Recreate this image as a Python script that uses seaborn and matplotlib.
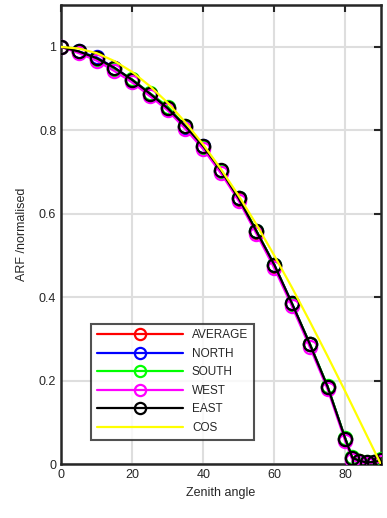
import numpy as np
import pandas as pd
import matplotlib
matplotlib.use("Agg")
import matplotlib.pyplot as plt
import seaborn as sns

# zenith angles (deg) and normalised ARF per direction
angle = [0, 5, 10, 15, 20, 25, 30, 35, 40, 45, 50, 55, 60, 65, 70, 75, 80, 82, 84, 86, 88, 90]
average = [1.0, 0.988, 0.972, 0.948, 0.920, 0.887, 0.853, 0.808, 0.760, 0.702, 0.636, 0.557, 0.476, 0.383, 0.287, 0.185, 0.060, 0.014, 0.007, 0.003, 0.004, 0.008]
north = [1.0, 0.989, 0.975, 0.950, 0.921, 0.888, 0.854, 0.809, 0.762, 0.703, 0.637, 0.558, 0.478, 0.385, 0.288, 0.186, 0.061, 0.015, 0.006, 0.002, 0.003, 0.006]
south = [1.0, 0.988, 0.971, 0.947, 0.922, 0.889, 0.857, 0.810, 0.759, 0.703, 0.638, 0.559, 0.477, 0.384, 0.289, 0.187, 0.062, 0.016, 0.008, 0.004, 0.006, 0.012]
west = [1.0, 0.985, 0.967, 0.942, 0.915, 0.882, 0.848, 0.803, 0.755, 0.697, 0.631, 0.552, 0.470, 0.378, 0.281, 0.180, 0.055, 0.010, 0.004, 0.001, 0.002, 0.006]
east = [1.0, 0.989, 0.973, 0.950, 0.921, 0.888, 0.853, 0.810, 0.762, 0.704, 0.637, 0.558, 0.478, 0.385, 0.288, 0.186, 0.061, 0.015, 0.008, 0.004, 0.005, 0.009]
cos_angle = [0, 5, 10, 15, 20, 25, 30, 35, 40, 45, 50, 55, 60, 65, 70, 75, 80, 85, 90]
cos_val = [1.0, 0.996, 0.985, 0.966, 0.940, 0.906, 0.866, 0.819, 0.766, 0.707, 0.643, 0.574, 0.500, 0.423, 0.342, 0.259, 0.174, 0.087, 0.0]

series = {'AVERAGE': average, 'NORTH': north, 'SOUTH': south, 'WEST': west, 'EAST': east}
colours = {'AVERAGE': '#ff0000', 'NORTH': '#0000ff', 'SOUTH': '#00ff00', 'WEST': '#ff00ff', 'EAST': '#000000'}

df = pd.concat([pd.DataFrame({'angle': angle, 'arf': v, 'dir': k}) for k, v in series.items()])

sns.set_style("white")
plt.rcParams['font.family'] = ['Liberation Sans', 'DejaVu Sans']

fig = plt.figure(figsize=(3.87, 5.18), dpi=100)
ax = fig.add_axes([0.158, 0.104, 0.826, 0.886])

for name in series:
    sns.lineplot(data=df[df['dir'] == name], x='angle', y='arf', color=colours[name],
                 marker='o', markersize=9.5, markerfacecolor='none', markeredgecolor=colours[name],
                 markeredgewidth=1.6, linewidth=1.6, label=name, ax=ax, zorder=3)
sns.lineplot(x=cos_angle, y=cos_val, color='#ffff00', linewidth=1.6, label='COS', ax=ax, zorder=4)

ax.set_xlim(0, 90)
ax.set_ylim(0, 1.1)
ax.set_xticks([0, 20, 40, 60, 80])
ax.set_yticks([0, 0.2, 0.4, 0.6, 0.8, 1.0])
ax.set_yticklabels(['0', '0.2', '0.4', '0.6', '0.8', '1'])
ax.grid(True, color='#dedede', linewidth=1.5)
ax.set_axisbelow(True)
ax.tick_params(direction='in', length=5, width=1.5, top=True, right=True, labelsize=9, colors='#262626')
for s in ax.spines.values():
    s.set_linewidth(1.8)
    s.set_color('#262626')
ax.set_xlabel('Zenith angle', fontsize=9, color='#262626')
ax.set_ylabel('ARF /normalised', fontsize=9, color='#262626', labelpad=8)

leg = ax.legend(loc='lower left', bbox_to_anchor=(0.075, 0.04), handlelength=7.3, handletextpad=0.75,
                fontsize=8.5, frameon=True, fancybox=False, edgecolor='#262626', borderpad=0.5,
                labelspacing=0.55, markerscale=0.85)
leg.get_frame().set_linewidth(1.5)

fig.savefig('out.png', dpi=100)
